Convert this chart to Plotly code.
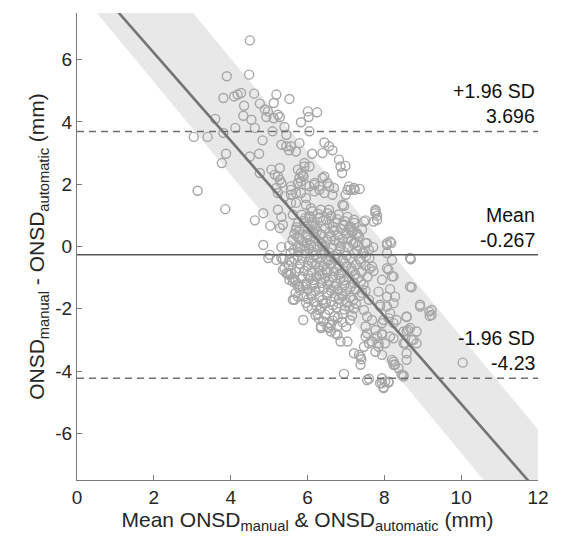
import numpy as np
import plotly.graph_objects as go

# ---- data ----
points = [
    # upper-left arm
    (4.50, 6.62), (3.90, 5.47), (4.48, 5.52),
    (3.81, 4.77), (4.09, 4.82), (4.18, 4.88), (4.27, 4.93), (4.61, 4.91), (5.19, 4.88), (5.53, 4.74),
    (4.35, 4.52), (4.76, 4.59), (5.12, 4.61), (4.89, 4.40), (4.97, 4.34), (6.01, 4.34), (6.25, 4.31),
    (4.93, 4.16), (5.23, 4.23), (5.28, 4.16), (5.12, 4.12), (4.33, 4.20), (4.54, 4.07), (3.60, 4.10), (6.03, 4.16), (5.83, 3.99),
    (4.12, 3.81), (4.63, 3.81), (3.81, 3.65), (5.09, 3.70), (5.40, 3.84), (5.45, 3.59), (6.05, 3.70),
    (3.04, 3.52), (3.40, 3.52), (4.83, 3.41), (5.32, 3.27), (5.45, 3.22), (5.57, 3.22), (5.79, 3.32), (5.70, 3.05), (5.52, 3.09), (6.44, 3.34),
    (3.88, 2.98), (4.50, 2.89), (4.74, 2.98), (6.12, 2.98), (6.39, 3.00), (6.56, 3.22), (6.65, 3.09),
    (6.82, 2.79), (6.86, 2.57), (6.99, 2.59), (3.77, 2.68), (5.92, 2.57), (5.06, 2.47), (5.28, 2.52),
    (6.90, 2.36), (5.75, 2.47), (5.83, 2.36), (5.79, 2.20), (5.90, 2.25), (5.23, 2.25), (6.44, 2.25),
    (4.76, 2.36), (5.15, 2.31), (5.28, 2.14),
    (3.14, 1.79), (6.05, 1.93), (6.18, 2.04), (6.31, 1.93), (6.56, 1.93), (6.69, 1.88), (7.12, 1.82),
    (7.36, 1.85), (7.23, 1.82), (7.08, 1.93), (5.57, 1.93), (5.75, 2.04),
    (6.65, 1.66), (6.99, 1.66), (5.70, 1.72), (5.23, 1.72), (5.40, 1.61), (3.86, 1.20),
    (4.63, 0.84), (4.85, 1.07), (5.03, 0.67), (5.23, 1.18), (5.32, 0.95), (5.36, 0.70), (5.28, 0.59),
    (4.85, 0.05), (5.32, -0.02), (5.02, -0.27), (4.98, -0.37), (5.19, -0.43), (5.36, -0.41), (5.53, -0.43),
    (5.40, -0.69), (5.53, -0.91), (5.66, -1.07),
    (5.19, 1.88), (5.57, 1.66), (5.96, 1.98), (6.05, 2.57), (5.92, 2.68), (5.88, 2.31), (5.83, 2.09),
    # band region near the core
    (5.70, 1.40), (5.62, 1.02), (5.75, 0.75), (5.70, 0.54), (5.79, 0.27), (5.75, 0.00), (5.92, 0.00),
    (6.01, 0.32), (5.92, 0.64), (6.05, 0.91), (6.09, 1.23), (5.96, 1.56), (6.18, 1.77), (6.39, 2.20),
    (6.44, 1.72), (6.56, 1.18), (6.48, 0.86), (6.22, 0.59), (6.35, 0.38), (6.39, 0.00), (6.22, -0.27),
    (6.56, -0.43), (6.48, -0.75), (6.31, -0.91), (6.18, -1.18), (5.96, -1.23), (5.79, -1.29), (5.62, -1.13),
    (5.45, -0.86),
    (5.62, -1.71), (5.75, -1.61), (6.01, -1.93), (6.31, -2.04), (6.26, -2.16), (6.48, -1.82), (5.89, -2.36),
    (6.35, -2.62), (6.52, -2.59), (6.61, -2.52),
    (5.32, 2.04), (5.57, 1.82), (5.83, 1.72), (6.18, 1.98), (6.31, 1.82), (6.52, 2.04), (7.04, 1.82),
    (7.21, 1.88), (5.57, 1.40), (5.96, 1.34), (6.13, 1.13), (6.35, 1.18), (6.52, 1.07), (6.91, 1.34),
    (6.95, 0.70), (7.12, 0.54), (7.29, 0.43), (7.55, 0.11), (7.47, 0.80), (7.77, 1.07), (7.81, 0.86),
    (7.77, 1.18), (8.07, 0.11), (8.15, 0.16),
    # right / lower-right arm
    (6.95, 1.31), (7.77, 1.13), (7.81, 0.99), (7.72, 0.80), (7.51, 0.84), (8.07, 0.05), (8.18, 0.11),
    (8.69, -0.41), (8.71, -1.31), (8.11, -0.75), (8.24, -0.96), (8.15, -1.37), (8.28, -1.61),
    (8.93, -1.93), (9.23, -2.04), (9.18, -2.23), (8.58, -2.27), (8.32, -2.36), (8.50, -2.73), (8.67, -2.62),
    (8.54, -3.11), (8.76, -3.00), (8.84, -3.11), (8.58, -3.64), (8.20, -3.64), (8.24, -3.80), (8.45, -4.12),
    (7.94, -2.84), (8.15, -2.89), (8.02, -3.11), (7.85, -3.22), (7.77, -3.38), (7.94, -3.48), (7.51, -2.89),
    (7.60, -3.11), (7.47, -3.22), (7.04, -3.05), (7.21, -3.43), (7.34, -3.48), (7.40, -3.62), (7.38, -3.80),
    (6.95, -4.09), (7.55, -4.29), (7.94, -4.39), (8.02, -4.34), (7.98, -4.55), (8.11, -4.37), (10.04, -3.73),
    (7.51, -2.57), (7.68, -2.36), (7.77, -2.68), (7.94, -2.46), (8.11, -2.30), (7.68, -0.64), (7.94, -1.07),
    (7.85, -1.45), (7.60, -1.71), (7.89, -1.93), (7.47, -2.04), (7.55, -2.25), (8.20, -0.43), (8.07, -0.21),
    (7.51, 0.11), (7.60, -0.11), (7.47, -0.21), (7.16, 0.43), (7.34, 0.32), (7.25, 0.11), (7.12, 0.64),
    (7.21, 0.86), (7.42, 0.54),
    (9.17, -2.09), (8.62, -2.68), (8.84, -2.73), (8.50, -3.11), (6.78, -2.57), (6.73, -2.79), (6.86, -3.05),
    (8.28, -3.80), (8.50, -4.18), (7.55, -2.79), (7.68, -3.05), (7.81, -2.89), (7.85, -3.11), (8.24, -2.95),
    (8.15, -2.14), (7.98, -2.36), (8.24, -2.46), (7.60, -4.25), (7.89, -4.39), (7.98, -4.52), (8.11, -4.34),
    (7.94, -4.23),
    (5.32, -0.37), (5.36, -0.75), (5.57, -0.86), (5.53, -1.07), (5.75, -1.29), (5.66, -1.71), (6.35, -2.57),
    (6.56, -2.46), (6.61, -2.73), (6.78, -2.84), (7.38, -3.54), (8.67, -0.37), (8.07, -0.70), (8.20, -0.96),
    (8.67, -1.29), (8.93, -1.87), (9.23, -2.20), (8.07, -1.61), (8.24, -1.82), (7.89, -1.87), (8.07, -1.93),
    (8.58, -2.25), (7.94, -2.79), (8.58, -2.73), (8.71, -3.00), (8.58, -3.43), (8.24, -3.70), (8.37, -3.91),
    (8.50, -4.13),
    # dense core
    (5.85, 1.02), (6.05, 0.97), (6.27, 1.05), (6.62, 0.98), (6.81, 1.03), (7.04, 0.95),
    (5.91, 0.82), (6.12, 0.78), (6.41, 0.83), (6.72, 0.77), (6.97, 0.81), (7.22, 0.76),
    (5.71, 0.62), (6.02, 0.57), (6.19, 0.64), (6.46, 0.58), (6.66, 0.63), (6.87, 0.57), (7.08, 0.61),
    (5.66, 0.41), (5.96, 0.37), (6.16, 0.44), (6.36, 0.39), (6.56, 0.42), (6.79, 0.36), (7.01, 0.41), (7.31, 0.38),
    (5.61, 0.21), (5.86, 0.18), (6.06, 0.23), (6.29, 0.17), (6.51, 0.22), (6.71, 0.19), (6.91, 0.24), (7.14, 0.18),
    (5.52, 0.02), (5.81, -0.03), (6.09, 0.04), (6.26, -0.02), (6.46, 0.03), (6.64, -0.04), (6.86, 0.01),
    (7.06, -0.03), (7.31, 0.02), (7.71, -0.02),
    (5.56, -0.21), (5.76, -0.18), (5.96, -0.23), (6.14, -0.17), (6.36, -0.22), (6.56, -0.19), (6.76, -0.24),
    (6.96, -0.18), (7.21, -0.22), (7.44, -0.19),
    (5.66, -0.41), (5.86, -0.38), (6.04, -0.43), (6.26, -0.37), (6.49, -0.42), (6.71, -0.39), (6.91, -0.44),
    (7.11, -0.38), (7.36, -0.41), (7.61, -0.37),
    (5.51, -0.61), (5.81, -0.57), (6.01, -0.62), (6.21, -0.58), (6.41, -0.63), (6.61, -0.57), (6.81, -0.61),
    (7.01, -0.64), (7.26, -0.58), (7.51, -0.62),
    (5.71, -0.81), (5.91, -0.78), (6.11, -0.83), (6.31, -0.77), (6.51, -0.82), (6.69, -0.79), (6.89, -0.84),
    (7.16, -0.78), (7.41, -0.82), (7.72, -0.79),
    (5.61, -1.01), (5.86, -0.98), (6.06, -1.03), (6.24, -0.97), (6.46, -1.02), (6.66, -0.99), (6.86, -1.04),
    (7.06, -0.98), (7.31, -1.02), (7.56, -0.97),
    (5.76, -1.21), (5.96, -1.18), (6.16, -1.23), (6.36, -1.17), (6.54, -1.22), (6.76, -1.19), (6.96, -1.24),
    (7.21, -1.18), (7.46, -1.22),
    (5.81, -1.41), (6.01, -1.38), (6.21, -1.43), (6.41, -1.37), (6.61, -1.42), (6.79, -1.39), (7.01, -1.44),
    (7.26, -1.38), (7.51, -1.42),
    (5.91, -1.61), (6.11, -1.58), (6.31, -1.63), (6.51, -1.57), (6.71, -1.62), (6.91, -1.59), (7.11, -1.64),
    (7.36, -1.58),
    (5.96, -1.81), (6.16, -1.78), (6.41, -1.83), (6.61, -1.77), (6.81, -1.82), (7.01, -1.79), (7.26, -1.84),
    (6.11, -2.01), (6.36, -1.98), (6.56, -2.03), (6.76, -1.97), (6.96, -2.02), (7.21, -1.99),
    (6.21, -2.21), (6.46, -2.18), (6.71, -2.23), (6.91, -2.17), (7.16, -2.22),
    (6.41, -2.41), (6.66, -2.38), (6.91, -2.43), (7.11, -2.37),
    # more of the dense core (between the rows above)
    (5.94, 0.91), (6.33, 0.93), (6.77, 0.88), (6.14, 0.69), (6.57, 0.73), (6.94, 0.67), (5.79, 0.51),
    (6.24, 0.48), (6.69, 0.52), (7.17, 0.49), (5.74, 0.31), (6.21, 0.28), (6.62, 0.32), (7.06, 0.27),
    (5.97, 0.11), (6.38, 0.08), (6.82, 0.12), (7.19, 0.09), (5.64, -0.11), (6.04, -0.08), (6.44, -0.12),
    (6.84, -0.09), (7.29, -0.12), (5.74, -0.31), (6.16, -0.28), (6.59, -0.32), (7.02, -0.29), (7.52, -0.31),
    (5.59, -0.49), (6.12, -0.52), (6.53, -0.48), (6.97, -0.51), (7.39, -0.49), (5.79, -0.71), (6.29, -0.68),
    (6.77, -0.72), (7.14, -0.69), (7.62, -0.71), (5.49, -0.89), (6.02, -0.92), (6.39, -0.88), (6.82, -0.91),
    (7.24, -0.89), (5.69, -1.12), (6.14, -1.08), (6.56, -1.11), (6.94, -1.09), (7.39, -1.12), (5.88, -1.29),
    (6.31, -1.32), (6.69, -1.28), (7.12, -1.31), (5.69, -1.49), (6.09, -1.52), (6.52, -1.48), (6.89, -1.51),
    (7.42, -1.49), (6.02, -1.69), (6.39, -1.72), (6.82, -1.68), (7.19, -1.71), (6.24, -1.91), (6.66, -1.89),
    (7.09, -1.92), (6.29, -2.31), (6.79, -2.28), (6.56, -2.62), (7.01, -2.58),
]
mean_onsd = [p[0] for p in points]
diff_onsd = [p[1] for p in points]

# summary statistics shown in the chart
bias = -0.267
loa_upper = 3.696
loa_lower = -4.23

# regression of difference on mean, and the shaded band edges
reg_intercept, reg_slope = 9.04, -1.41
band_slope = -1.49
band_lo_intercept, band_hi_intercept = 8.27, 12.0

x_ticks = [0, 2, 4, 6, 8, 10, 12]
y_ticks = [-6, -4, -2, 0, 2, 4, 6]
x_range = [0, 12]
y_range = [-7.5, 7.5]

# ---- figure ----
xg = np.linspace(x_range[0], x_range[1], 200)
band_lo = band_lo_intercept + band_slope * xg
band_hi = band_hi_intercept + band_slope * xg

fig = go.Figure()
fig.add_trace(go.Scatter(
    x=np.concatenate([xg, xg[::-1]]), y=np.concatenate([band_hi, band_lo[::-1]]),
    fill="toself", fillcolor="#e8e8e8", line=dict(width=0), mode="lines", hoverinfo="skip"))

fig.add_trace(go.Scatter(
    x=mean_onsd, y=diff_onsd, mode="markers",
    marker=dict(symbol="circle-open", size=9, color="#a6a6a6", line=dict(width=1.4, color="#a6a6a6"))))

for val, dash, col, w in [(loa_upper, "7px,5px", "#6e6e6e", 1.4), (bias, "solid", "#595959", 1.5),
                          (loa_lower, "7px,5px", "#6e6e6e", 1.4)]:
    fig.add_trace(go.Scatter(x=x_range, y=[val, val], mode="lines",
                             line=dict(color=col, width=w, dash=dash)))

fig.add_trace(go.Scatter(x=xg, y=reg_intercept + reg_slope * xg, mode="lines",
                         line=dict(color="#747474", width=2.6)))

labels = [("+1.96 SD", "%.3f" % loa_upper, loa_upper),
          ("Mean", "%.3f" % bias, bias),
          ("-1.96 SD", "%.2f" % loa_lower, loa_lower)]
for top, bottom, val in labels:
    fig.add_annotation(x=11.98, y=val, text=top, showarrow=False, xanchor="right", yanchor="middle",
                       yshift=40, font=dict(size=19.5, color="#111111"))
    fig.add_annotation(x=11.98, y=val, text=bottom, showarrow=False, xanchor="right", yanchor="middle",
                       yshift=15, font=dict(size=19.5, color="#111111"))

axis_common = dict(showgrid=False, zeroline=False, showline=True, linecolor="#7a7a7a", linewidth=1,
                   ticks="inside", ticklen=5, tickcolor="#7a7a7a", tickfont=dict(size=19, color="#262626"))
fig.update_xaxes(range=x_range, tickvals=x_ticks, ticktext=[str(v) for v in x_ticks], **axis_common,
                 title=dict(text="Mean ONSD<sub>manual</sub> & ONSD<sub>automatic</sub> (mm)",
                            font=dict(size=21, color="#262626"), standoff=4))
fig.update_yaxes(range=y_range, tickvals=y_ticks, ticktext=[str(v) for v in y_ticks], **axis_common,
                 title=dict(text="ONSD<sub>manual</sub> - ONSD<sub>automatic</sub> (mm)",
                            font=dict(size=21, color="#262626"), standoff=4))

fig.update_layout(width=561, height=547, margin=dict(l=77, r=18, t=13, b=67),
                  plot_bgcolor="white", paper_bgcolor="white", showlegend=False,
                  font=dict(family="Liberation Sans, Arial, sans-serif"))

fig.write_html("out.html")
